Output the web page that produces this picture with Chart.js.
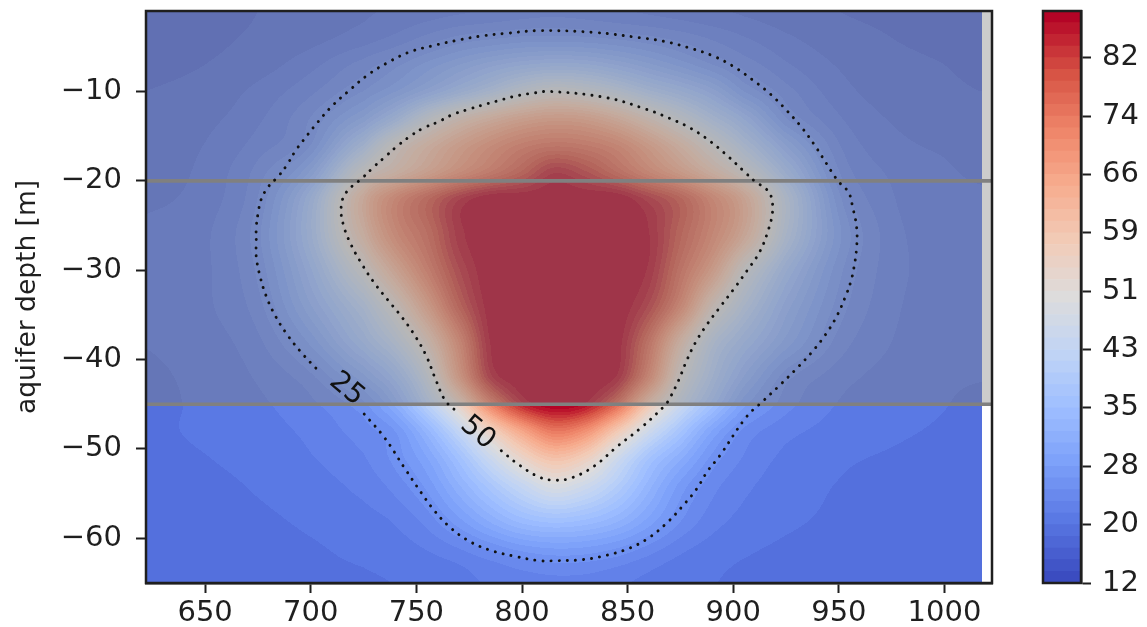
<!DOCTYPE html>
<html>
<head>
<meta charset="utf-8">
<script src="https://cdn.jsdelivr.net/npm/chart.js@4"></script>
<style>
    body { margin: 0; background: #fff; width: 1147px; height: 627px; overflow: hidden; }
    canvas { position: absolute; top: 0; }
    #field { left: 0; }
    #bar { left: 1000px; }
</style>
</head>
<body>
<canvas id="field" width="1000" height="627"></canvas>
<canvas id="bar" width="147" height="627"></canvas>
<script>
// axis ticks
var xTicks = [650, 700, 750, 800, 850, 900, 950, 1000];
var yTicks = [-10, -20, -30, -40, -50, -60];
var barTicks = [12, 19.75, 27.5, 35.25, 43, 50.75, 58.5, 66.25, 74, 81.75];

// colour levels of the filled contours
var levels = [12, 13.55, 15.1, 16.65, 18.2, 19.75, 21.3, 22.85, 24.4, 25.95, 27.5, 29.05, 30.6, 32.15, 33.7, 35.25,
    36.8, 38.35, 39.9, 41.45, 43, 44.55, 46.1, 47.65, 49.2, 50.75, 52.3, 53.85, 55.4, 56.95, 58.5, 60.05, 61.6,
    63.15, 64.7, 66.25, 67.8, 69.35, 70.9, 72.45, 74, 75.55, 77.1, 78.65, 80.2, 81.75, 83.3, 84.85, 86.4, 87.95];

// temperature, one row per depth
var gridX = [622, 650, 675, 700, 725, 740, 755, 770, 785, 800, 815, 830, 845, 860, 875, 890, 905, 925, 950, 975, 1000, 1017];
var gridY = [-1, -4, -7, -10, -13, -16, -19, -22, -26, -30, -34, -38, -42, -45, -48, -51, -54, -58, -62, -65];
var temps = [
    [18, 18, 18.2, 18.8, 19.5, 20, 20.5, 21, 21.5, 22, 22.3, 22, 21.5, 21, 20.5, 20, 19.5, 18.8, 18.2, 18, 18, 18],
    [18, 18, 18.4, 19.2, 20.5, 21.7, 23.3, 24.8, 25.6, 26.3, 26.5, 26.2, 25.6, 24.8, 23.8, 22.6, 21.4, 20, 18.8, 18.2, 18, 18],
    [18, 18.2, 19, 20.8, 23.5, 25.5, 28, 30.5, 33, 35, 36, 35.5, 33.5, 31, 28.5, 26, 23.8, 21.5, 19.6, 18.6, 18.2, 18],
    [18.2, 18.7, 20.2, 22.5, 26, 29, 33, 37.5, 42, 47, 50, 48.5, 45, 40.5, 37, 33, 27.5, 23.5, 20.4, 19, 18.5, 18.2],
    [18.5, 19.3, 21, 24.5, 31, 38, 47, 54, 59, 63, 65, 64, 60, 54, 47.5, 41, 35, 26, 21.5, 19.6, 19, 18.6],
    [18.8, 19.8, 22, 26, 40, 51, 58, 64, 69, 73, 75, 74, 71, 65, 58, 50, 42, 32, 23, 20.3, 19.5, 19],
    [19, 20.2, 23.5, 31, 50, 57, 63, 69, 74, 79, 84.5, 82, 77, 71, 65, 58, 50, 38, 24.5, 21, 20, 19.5],
    [19.5, 20.5, 24.5, 37, 60, 71, 78, 84.5, 88, 88, 88, 88, 88, 84, 79, 71, 62, 44, 26.5, 21.5, 20.3, 20],
    [20, 21, 25.5, 38, 58, 70, 77, 85.5, 88, 88, 88, 88, 88, 86.5, 79, 71, 61, 43, 28, 22, 20.7, 20.3],
    [20, 21, 24.8, 35, 50, 62, 73, 83, 88, 88, 88, 88, 88, 86, 76, 65, 50, 37, 26.5, 22, 20.7, 20.3],
    [20, 21, 23.8, 32, 42, 52, 65, 79, 87.5, 88, 88, 88, 88, 83, 71, 54, 43, 33, 25.3, 21.7, 20.5, 20.2],
    [19.8, 20.6, 22.5, 28, 37, 44, 55, 71, 86.5, 88, 88, 88, 87.5, 76, 58, 44, 37, 30, 23.8, 21.3, 20.3, 20],
    [19.5, 20.2, 21.5, 24, 30, 36, 47, 66, 84, 88, 88, 88, 86, 71, 51, 40, 32, 25, 22, 20.7, 20, 19.8],
    [19.5, 20, 21, 22.5, 25.5, 31, 41, 54, 72, 84, 88, 86, 76, 58, 45, 36, 28, 23.5, 21.2, 20.3, 19.8, 19.5],
    [19.5, 20, 20.7, 21.7, 23.7, 26, 33, 43, 55, 66, 74, 70, 58, 46, 37, 29, 24, 21.8, 20.7, 20, 19.6, 19.4],
    [19.3, 19.7, 20.3, 21.2, 22.7, 25, 29, 36, 45, 54, 60, 56, 46, 37, 31, 25.5, 22.7, 20.9, 20, 19.6, 19.3, 19.2],
    [19.2, 19.4, 19.9, 20.6, 21.8, 23.5, 26.5, 32, 38, 44, 49, 46, 40, 33, 27, 23.5, 21.7, 20.4, 19.7, 19.4, 19.2, 19.1],
    [19, 19.2, 19.5, 20, 20.7, 21.5, 23.5, 27, 31, 34.5, 36, 35, 32.5, 28.5, 24.5, 22, 20.8, 20, 19.5, 19.2, 19, 19],
    [19, 19, 19.2, 19.5, 20, 20.4, 21, 22, 23.5, 25, 25.8, 25.6, 24.5, 22.8, 21.2, 20.3, 19.8, 19.4, 19.1, 19, 19, 19],
    [19, 19, 19, 19.2, 19.5, 19.8, 20.2, 20.7, 21.5, 22, 22.3, 22.2, 21.6, 20.8, 20.2, 19.8, 19.5, 19.2, 19, 19, 19, 19]
];

// dotted contour lines, broken where their labels sit
var contour25 = [[725.3, -46.1], [734.8, -48.7], [744.3, -52.1], [752.3, -54.9], [758.5, -56.9], [765.6, -58.7], [774.1, -60.2],
    [784.5, -61.3], [796.4, -62], [808.2, -62.5], [816.3, -62.5], [828.1, -62.4], [840, -61.9], [850.9, -61.1], [860.3, -59.9],
    [868.9, -58.2], [876, -56.4], [882.6, -54.5], [887.8, -52.5], [893.5, -50.8], [906.3, -46.4], [914.3, -44.6], [921.9, -42.9],
    [930, -41], [937.1, -39.2], [943.7, -37.2], [948.9, -35.2], [953.2, -32.9], [955.5, -31.4], [957, -29.9], [958.4, -27.5], [958.4, -25.2], [956.5, -22.9],
    [954.6, -21.3], [950.3, -20.2], [948, -19.5], [944.2, -18.1], [938.5, -16], [932.3, -14], [925.2, -12.1], [917.6, -10.3],
    [909.1, -8.7], [900.1, -7.2], [890.2, -6], [878.8, -5.1], [867.4, -4.4], [856.1, -4], [834.3, -3.4], [808.2, -3.2], [792.6, -3.5],
    [780.7, -3.8], [768.9, -4.3], [757.5, -4.9], [746.6, -5.6], [736.2, -6.8], [726.7, -8.2], [718.2, -9.9], [710.2, -11.6], [703.1, -13.5],
    [696.4, -15.5], [692.6, -16.7], [688.8, -18.2], [684.6, -19.5], [679.8, -20.7], [676.5, -22.1], [675.1, -23.6], [674.2, -25.2], [674.2, -26.8], [674.2, -28.5], [676, -30.7],
    [678.9, -32.9], [683.2, -35.1], [688.8, -37.2], [695.5, -39.2], [702.6, -41], [704.9, -41.5]];
var contour50 = [[790.2, -50.2], [798.7, -51.8], [808.7, -53.2], [816.3, -53.5], [823.9, -53.2], [834.3, -51.9], [845.2, -49.7],
    [856.5, -47.6], [867.4, -45.2], [869.3, -44.6], [874, -42.4], [877.8, -40.2], [882.1, -38.1], [887.8, -36], [894, -34.05], [900.6, -32],
    [906.7, -30], [912.4, -28], [916.2, -25.8], [918.6, -23.5], [918.1, -21.9], [916.7, -21.2], [913.9, -20.6], [911, -20.2], [905.8, -19.1],
    [897.7, -17.3], [889.2, -15.6], [879.7, -14.1], [869.8, -13], [858.9, -12], [840, -10.7], [813, -10], [804.9, -10.2],
    [797.3, -10.5], [789.3, -11], [781.7, -11.5], [774.6, -12], [767, -12.6], [760.4, -13.4], [753.3, -14.1], [747.1, -15], [740.5, -16.2],
    [735.3, -17.3], [730, -18.4], [724.8, -19.6], [716.8, -21.3], [714.4, -22.9], [715.4, -24.9],
    [719.2, -27.2], [724.4, -29.4], [730, -31.4], [736.7, -33.4], [743.3, -35.3], [749.5, -37.4], [754.7, -39.6], [759.4, -42.4],
    [763.7, -44.6], [769, -45.8]];
var contourLabels = [
    { text: '25', x: 717, y: -43.3 },
    { text: '50', x: 779, y: -48.2 }
];

// aquifer limits
var aquiferBottom = -45;
var aquiferTop = -20;
var xMin = 622, xMax = 1022.5, yMin = -65, yMax = -1;
var fieldEnd = 1018;

var tickFont = { family: 'DejaVu Sans', size: 29 };
var inkColor = '#1f1f1f';

// matplotlib coolwarm, sampled every 0.1
var coolwarm = [[59, 76, 192], [89, 119, 227], [123, 159, 249], [158, 190, 255], [192, 212, 245], [221, 220, 220],
    [242, 203, 183], [247, 172, 142], [238, 132, 104], [214, 82, 68], [180, 4, 38]];

function colorAt(f) {
    var p = Math.max(0, Math.min(1, f)) * (coolwarm.length - 1);
    var i = Math.min(Math.floor(p), coolwarm.length - 2);
    var t = p - i;
    return [0, 1, 2].map(function (k) {
        return Math.round(coolwarm[i][k] + (coolwarm[i + 1][k] - coolwarm[i][k]) * t);
    });
}

// colour of the contour band a value falls in
function bandIndex(v) {
    for (var i = 1; i < levels.length; i++) {
        if (v < levels[i]) return i - 1;
    }
    return levels.length - 2;
}
var bandColors = levels.slice(0, -1).map(function (lo, i) {
    return colorAt(i / (levels.length - 2));
});

function gridPos(list, v) {
    // position of v in a sorted list, as a fractional index
    var asc = list[1] > list[0];
    for (var i = 0; i < list.length - 1; i++) {
        var a = list[i], b = list[i + 1];
        if (asc ? v <= b : v >= b) {
            return Math.max(0, i + (v - a) / (b - a));
        }
    }
    return list.length - 1;
}

function catmull(t) {
    return [
        -0.5 * t + t * t - 0.5 * t * t * t,
        1 - 2.5 * t * t + 1.5 * t * t * t,
        0.5 * t + 2 * t * t - 1.5 * t * t * t,
        -0.5 * t * t + 0.5 * t * t * t
    ];
}

function clampIdx(i, n) {
    return i < 0 ? 0 : (i >= n ? n - 1 : i);
}

var _fieldImage = null;
function buildField(chart) {
    var area = chart.chartArea;
    var xs = chart.scales.x, ys = chart.scales.y;
    var w = Math.round(area.right - area.left), h = Math.round(area.bottom - area.top);
    var off = document.createElement('canvas');
    off.width = w;
    off.height = h;
    var octx = off.getContext('2d');
    var img = octx.createImageData(w, h);
    var colW = [], colI = [];
    for (var px = 0; px < w; px++) {
        var dx = xs.getValueForPixel(area.left + px + 0.5);
        var fx = gridPos(gridX, dx);
        colI.push(Math.floor(fx));
        colW.push(catmull(fx - Math.floor(fx)));
    }
    for (var py = 0; py < h; py++) {
        var dy = ys.getValueForPixel(area.top + py + 0.5);
        var fy = gridPos(gridY, dy);
        var ry = Math.floor(fy);
        var wy = catmull(fy - ry);
        for (var q = 0; q < w; q++) {
            var o = (py * w + q) * 4;
            if (xs.getValueForPixel(area.left + q + 0.5) > fieldEnd) continue;
            var v = 0;
            for (var a = 0; a < 4; a++) {
                var row = temps[clampIdx(ry + a - 1, gridY.length)];
                for (var b = 0; b < 4; b++) {
                    v += wy[a] * colW[q][b] * row[clampIdx(colI[q] + b - 1, gridX.length)];
                }
            }
            var c = bandColors[bandIndex(v)];
            img.data[o] = c[0];
            img.data[o + 1] = c[1];
            img.data[o + 2] = c[2];
            img.data[o + 3] = 255;
        }
    }
    octx.putImageData(img, 0, 0);
    return off;
}

var fieldPlugin = {
    id: 'fieldPlugin',
    beforeDatasetsDraw: function (chart) {
        if (_fieldImage === null) _fieldImage = buildField(chart);
        chart.ctx.drawImage(_fieldImage, chart.chartArea.left, chart.chartArea.top);
    },
    afterDatasetsDraw: function (chart) {
        var ctx = chart.ctx;
        ctx.save();
        ctx.fillStyle = '#111';
        ctx.font = '28px "DejaVu Sans"';
        ctx.textAlign = 'center';
        ctx.textBaseline = 'middle';
        contourLabels.forEach(function (l) {
            ctx.save();
            ctx.translate(chart.scales.x.getPixelForValue(l.x), chart.scales.y.getPixelForValue(l.y));
            ctx.rotate(40 * Math.PI / 180);
            ctx.fillText(l.text, 0, 0);
            ctx.restore();
        });
        ctx.restore();
    }
};

// frame round the plot, both charts
var framePlugin = {
    id: 'framePlugin',
    afterDraw: function (chart) {
        var a = chart.chartArea, ctx = chart.ctx;
        ctx.save();
        ctx.strokeStyle = inkColor;
        ctx.lineWidth = 2.5;
        ctx.strokeRect(a.left, a.top, a.right - a.left, a.bottom - a.top);
        ctx.restore();
    }
};

function toPoints(list) {
    return list.map(function (p) { return { x: p[0], y: p[1] }; });
}

function contourSet(list) {
    return {
        data: toPoints(list),
        showLine: true,
        fill: false,
        tension: 0.4,
        borderColor: '#111',
        borderWidth: 2.9,
        borderCapStyle: 'round',
        borderDash: [0.1, 8],
        pointRadius: 0,
        order: 1
    };
}

function axisGrid() {
    return { display: true, drawOnChartArea: false, tickLength: 10, tickWidth: 2, tickColor: inkColor };
}

// the scale would otherwise reserve room for half a tick label at its ends
function fixedSize(axis, w, h) {
    if (w) axis.width = w;
    if (h) axis.height = h;
    axis.paddingTop = 0;
    axis.paddingBottom = 0;
    axis.paddingLeft = 0;
    axis.paddingRight = 0;
}

new Chart(document.getElementById('field').getContext('2d'), {
    type: 'scatter',
    data: {
        datasets: [
            contourSet(contour25),
            contourSet(contour50),
            {
                // the grey layer over the aquifer
                data: [{ x: xMin, y: aquiferBottom }, { x: xMax, y: aquiferBottom }],
                showLine: true,
                fill: 'end',
                backgroundColor: 'rgba(128,128,128,0.4)',
                borderColor: '#808080',
                borderWidth: 3.7,
                pointRadius: 0,
                order: 3
            },
            {
                data: [{ x: xMin, y: aquiferTop }, { x: xMax, y: aquiferTop }],
                showLine: true,
                fill: false,
                borderColor: '#808080',
                borderWidth: 3.7,
                pointRadius: 0,
                order: 2
            }
        ]
    },
    options: {
        responsive: false,
        animation: false,
        layout: { padding: { top: 11, right: 8 } },
        plugins: { legend: { display: false }, tooltip: { enabled: false } },
        scales: {
            x: {
                type: 'linear',
                min: xMin,
                max: xMax,
                grid: axisGrid(),
                border: { color: inkColor, width: 2.5 },
                afterBuildTicks: function (axis) {
                    axis.ticks = xTicks.map(function (v) { return { value: v }; });
                },
                afterFit: function (axis) { fixedSize(axis, 0, 44); },
                ticks: {
                    font: tickFont,
                    color: inkColor,
                    padding: 3,
                    maxRotation: 0,
                    autoSkip: false,
                    callback: function (value) {
                        return String(value);
                    }
                }
            },
            y: {
                type: 'linear',
                min: yMin,
                max: yMax,
                grid: axisGrid(),
                border: { color: inkColor, width: 2.5 },
                title: {
                    display: true,
                    text: 'aquifer depth [m]',
                    color: inkColor,
                    font: { family: 'DejaVu Sans', size: 26.5 },
                    padding: { top: 12, bottom: 0 }
                },
                afterBuildTicks: function (axis) {
                    axis.ticks = yTicks.map(function (v) { return { value: v }; });
                },
                afterFit: function (axis) { fixedSize(axis, 146, 0); },
                ticks: {
                    font: tickFont,
                    color: inkColor,
                    padding: 14,
                    autoSkip: false,
                    callback: function (value) {
                        return '\u2212' + Math.abs(value);
                    }
                }
            }
        }
    },
    plugins: [fieldPlugin, framePlugin]
});

// colour bar: one floating bar per band
var barSets = [];
for (var i = 0; i < levels.length - 1; i++) {
    var c = bandColors[i];
    barSets.push({
        data: [[levels[i], levels[i + 1]]],
        backgroundColor: 'rgb(' + c.join(',') + ')',
        borderWidth: 0,
        barPercentage: 1,
        categoryPercentage: 1,
        grouped: false
    });
}

new Chart(document.getElementById('bar').getContext('2d'), {
    type: 'bar',
    data: { labels: ['T'], datasets: barSets },
    options: {
        responsive: false,
        animation: false,
        layout: { padding: { top: 11, left: 43, bottom: 44 } },
        plugins: { legend: { display: false }, tooltip: { enabled: false } },
        scales: {
            x: { display: false, stacked: false },
            y: {
                position: 'right',
                min: 12,
                max: 87.95,
                grid: axisGrid(),
                border: { color: inkColor, width: 2.5 },
                afterBuildTicks: function (axis) {
                    axis.ticks = barTicks.map(function (v) { return { value: v }; });
                },
                afterFit: function (axis) { fixedSize(axis, 66, 0); },
                ticks: {
                    font: tickFont,
                    color: inkColor,
                    padding: 11,
                    autoSkip: false,
                    callback: function (value) {
                        return String(Math.round(value));
                    }
                }
            }
        }
    },
    plugins: [framePlugin]
});
</script>
</body>
</html>
